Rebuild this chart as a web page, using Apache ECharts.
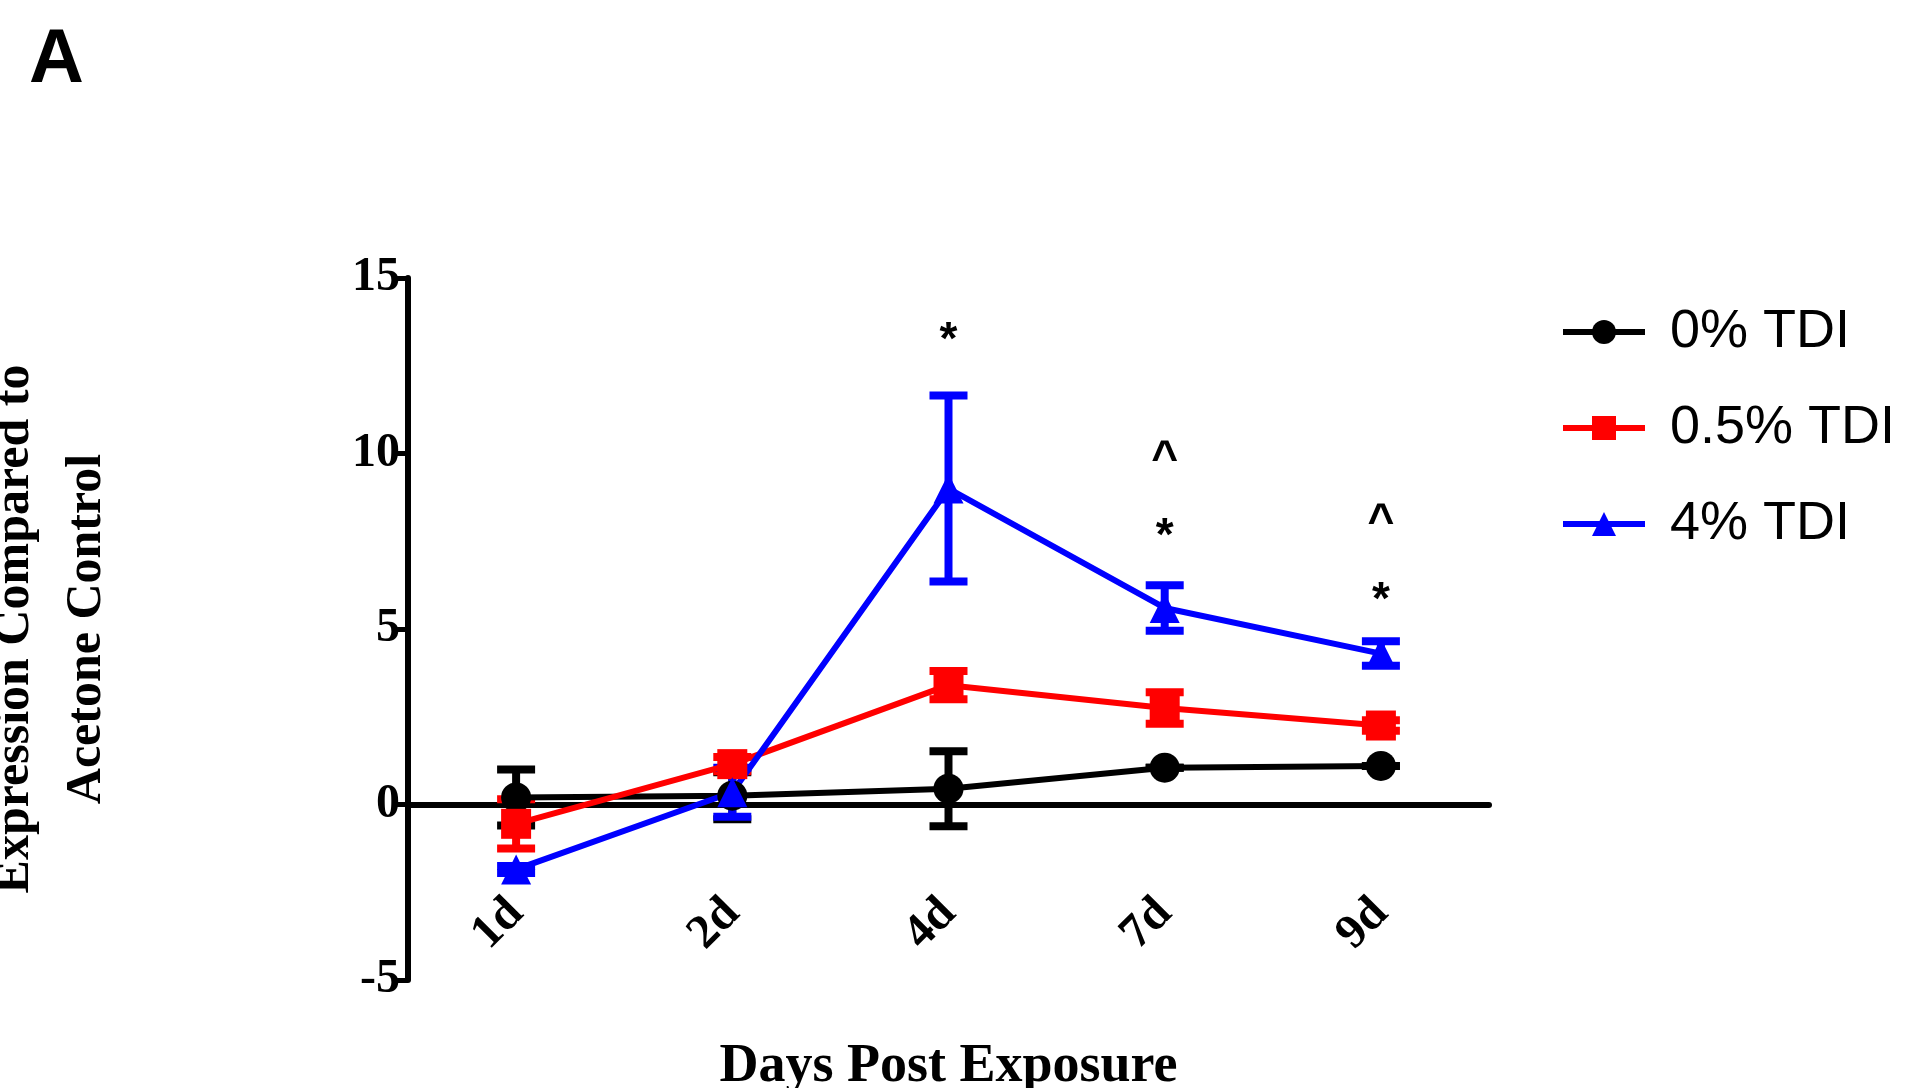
<!DOCTYPE html>
<html>
<head>
<meta charset="utf-8">
<script src="https://cdn.jsdelivr.net/npm/echarts@6/dist/echarts.min.js"></script>
<style>html,body{margin:0;padding:0;background:#fff}#main{width:1928px;height:1088px}</style>
</head>
<body>
<div id="main"></div>
<script>
var days = ['1d', '2d', '4d', '7d', '9d'];

var ctrlMean = [0.2, 0.25, 0.45, 1.05, 1.1];
var ctrlErr = [0.8, 0.67, 1.07, 0, 0];
var lowMean = [-0.55, 1.15, 3.4, 2.75, 2.25];
var lowErr = [0.7, 0.2, 0.4, 0.45, 0.15];
var highMean = [-1.85, 0.35, 9.0, 5.6, 4.3];
var highErr = [0.1, 0.7, 2.65, 0.65, 0.35];

// significance marks: [day index, y, symbol]
var marks = [[2, 13.2, '*'], [3, 9.8, '^'], [3, 7.6, '*'], [4, 8.0, '^'], [4, 5.8, '*']];

function errorSeries(mean, err, color) {
    var data = [];
    for (var i = 0; i < mean.length; i++) {
        data.push([i, mean[i] - err[i], mean[i] + err[i]]);
    }
    return {
        type: 'custom',
        xAxisIndex: 1,
        data: data,
        z: 3,
        silent: true,
        renderItem: function(params, api) {
            var lo = api.coord([api.value(0), api.value(1)]);
            var hi = api.coord([api.value(0), api.value(2)]);
            var w = 19;
            var st = {stroke: color, lineWidth: 8};
            return {
                type: 'group',
                children: [
                    {type: 'line', shape: {x1: hi[0], y1: hi[1], x2: lo[0], y2: lo[1]}, style: st},
                    {type: 'line', shape: {x1: hi[0] - w, y1: hi[1], x2: hi[0] + w, y2: hi[1]}, style: st},
                    {type: 'line', shape: {x1: lo[0] - w, y1: lo[1], x2: lo[0] + w, y2: lo[1]}, style: st}
                ]
            };
        }
    };
}

function lineSeries(name, mean, color, symbol) {
    return {
        name: name,
        type: 'line',
        xAxisIndex: 1,
        data: mean,
        symbol: symbol,
        symbolSize: 30,
        z: 4,
        lineStyle: {color: color, width: 6},
        itemStyle: {color: color}
    };
}

var chart = echarts.init(document.getElementById('main'));

var option = {
    animation: false,
    backgroundColor: '#fff',
    title: {
        text: 'A', left: 24, top: 18,
        textStyle: {fontFamily: 'Arial, Liberation Sans', fontWeight: 'bold', fontSize: 76, color: '#000'}
    },
    legend: {
        orient: 'vertical',
        left: 1555, top: 300,
        itemWidth: 82, itemHeight: 30, itemGap: 42,
        lineStyle: {width: 6},
        textStyle: {fontFamily: 'Arial, Liberation Sans', fontSize: 54, color: '#000', padding: [0, 0, 0, 20]},
        data: ['0% TDI', '0.5% TDI', '4% TDI']
    },
    grid: {left: 408, top: 278, width: 1081, height: 702, containLabel: false, outerBoundsMode: 'none'},
    xAxis: [{
        type: 'category',
        data: days,
        position: 'bottom',
        offset: -80,
        axisLine: {show: false, onZero: false},
        axisTick: {show: false},
        axisLabel: {rotate: 45, margin: 6, fontFamily: 'Times New Roman, Liberation Serif', fontWeight: 'bold', fontSize: 48, color: '#000'},
        name: 'Days Post Exposure',
        nameLocation: 'middle',
        nameGap: 140,
        nameTextStyle: {fontFamily: 'Times New Roman, Liberation Serif', fontWeight: 'bold', fontSize: 54, color: '#000'}
    }, {
        type: 'category',
        data: days,
        position: 'bottom',
        axisLine: {onZero: true, lineStyle: {color: '#000', width: 6}},
        axisTick: {alignWithLabel: true, length: 16, lineStyle: {color: '#000', width: 5}},
        axisLabel: {show: false}
    }],
    yAxis: {
        type: 'value',
        min: -5, max: 15, interval: 5,
        axisLine: {show: true, onZero: false, lineStyle: {color: '#000', width: 6}},
        axisTick: {show: true, length: 16, lineStyle: {color: '#000', width: 5}},
        splitLine: {show: false},
        axisLabel: {margin: 8, fontFamily: 'Times New Roman, Liberation Serif', fontWeight: 'bold', fontSize: 48, color: '#000'},
        name: 'Relative Fold Change in\nExpression Compared to\nAcetone Control',
        nameLocation: 'middle',
        nameRotate: 90,
        nameGap: 285,
        nameTextStyle: {fontFamily: 'Times New Roman, Liberation Serif', fontWeight: 'bold', fontSize: 50, color: '#000', lineHeight: 72, align: 'center'}
    },
    series: [
        errorSeries(ctrlMean, ctrlErr, '#000'),
        errorSeries(lowMean, lowErr, '#ff0000'),
        errorSeries(highMean, highErr, '#0000ff'),
        lineSeries('0% TDI', ctrlMean, '#000', 'circle'),
        lineSeries('0.5% TDI', lowMean, '#ff0000', 'rect'),
        lineSeries('4% TDI', highMean, '#0000ff', 'triangle'),
        {
            type: 'scatter',
            xAxisIndex: 1,
            data: marks,
            symbolSize: 1,
            itemStyle: {color: '#fff', opacity: 0},
            silent: true,
            label: {
                show: true, position: 'inside',
                formatter: function(p) { return p.data[2]; },
                fontFamily: 'Arial, Liberation Sans', fontWeight: 'bold', fontSize: 46, color: '#000', opacity: 1
            }
        }
    ]
};

chart.setOption(option);
</script>
</body>
</html>
